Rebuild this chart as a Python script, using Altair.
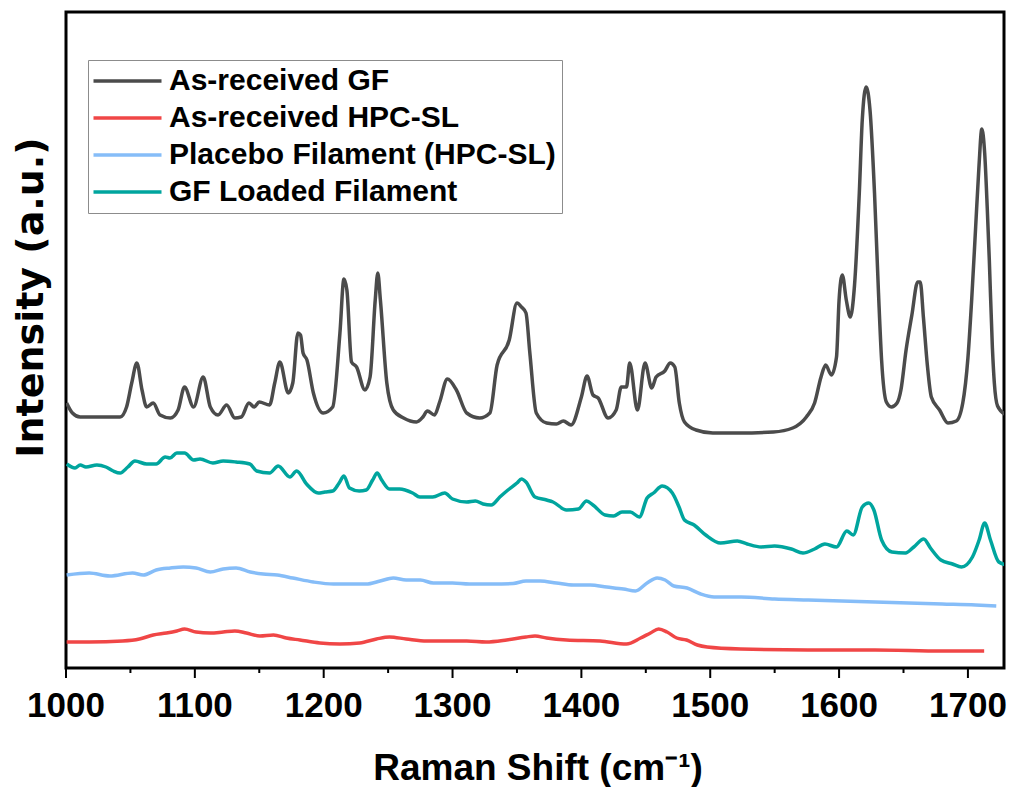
import altair as alt
import pandas as pd

# Raman spectra, intensity in arbitrary units (stacked with vertical offsets)
gf_x = [1000.5, 1005, 1011, 1020, 1030, 1042, 1047, 1051, 1055, 1059, 1062.6, 1067.7, 1073, 1081,
        1087, 1092, 1099, 1106.5, 1112, 1118, 1124.7, 1131, 1136, 1142, 1146, 1150, 1158, 1162,
        1166, 1172.5, 1176, 1180, 1182, 1184, 1187, 1192, 1199.6, 1207, 1212.6, 1215.7, 1218,
        1221.6, 1225.5, 1232, 1236, 1240, 1242, 1244, 1249, 1254, 1262, 1272, 1277, 1280.5, 1286,
        1290, 1296, 1303, 1311, 1321, 1329, 1334.6, 1344, 1350, 1353.5, 1357, 1360, 1365, 1373,
        1380.6, 1386, 1392, 1400, 1404.4, 1409, 1413, 1420.7, 1427, 1431, 1435, 1437.5, 1443.5,
        1449.4, 1454.6, 1458, 1464.7, 1469, 1472.5, 1476, 1480, 1489, 1502, 1523, 1549, 1564,
        1574.6, 1581, 1586, 1589.6, 1594, 1598, 1600, 1602.5, 1605.6, 1608.7, 1612, 1615.7, 1618,
        1621, 1624, 1627.5, 1630.6, 1633, 1636.7, 1640.6, 1645, 1648, 1652, 1656.5, 1661, 1663,
        1665.5, 1668.5, 1671.6, 1678, 1684.5, 1691, 1696, 1700, 1703, 1706, 1708.5, 1710.8, 1713,
        1715, 1716.6, 1719, 1720.5, 1723, 1728.5]
gf_y = [265, 255, 251, 251, 251, 251, 261, 285, 305, 278, 261, 265, 253, 250,
        258, 281, 261, 291, 261, 253, 263, 250, 251, 265, 261, 266, 263, 285,
        306, 275, 285, 335, 333, 315, 308, 275, 255, 261, 335, 389, 378,
        306, 301, 278, 291, 368, 395, 368, 285, 258, 250, 246, 251, 257, 253,
        266, 289, 278, 255, 250, 255, 303, 328, 365, 361, 355, 315, 255, 245,
        244, 247, 243, 271, 292, 273, 270, 250, 258, 281, 281, 305, 258,
        305, 280, 291, 297, 305, 301, 265, 246, 238, 235, 235, 236, 240,
        251, 265, 291, 303, 293, 311, 368, 393, 368, 351, 383, 475, 548,
        581, 558, 475, 375, 308, 266, 261, 265, 278, 318, 353, 386, 386,
        350, 303, 271, 258, 245, 247, 265, 310, 370, 441, 500, 539, 515,
        460, 408, 320, 285, 262, 254]

hpc_x = [1000.5, 1018, 1044, 1057, 1067.7, 1078, 1086, 1092, 1101, 1112, 1122, 1131, 1140,
         1150.5, 1161, 1171, 1181.5, 1197, 1212.6, 1228, 1241, 1251, 1264, 1280, 1296, 1311,
         1326, 1342, 1357, 1364, 1373, 1388.5, 1414.5, 1435, 1446, 1453.6, 1460, 1466.5, 1474,
         1481.6, 1490, 1497.6, 1523.7, 1575.8, 1628, 1680, 1712.6]
hpc_y = [26, 26, 27, 29, 33, 35, 37, 39, 36, 35, 36, 37, 35,
         32, 33, 30, 28, 25, 24, 25, 29, 31, 29, 27, 27, 27,
         26, 28, 31, 32, 30, 28, 27, 24, 30, 35, 39, 36, 30,
         28, 23, 21, 19, 18, 18, 17, 17]

placebo_x = [1000.5, 1018, 1034, 1051.7, 1060, 1070, 1081, 1091, 1101, 1112, 1122, 1132, 1143,
             1153, 1164, 1176, 1192, 1207.6, 1223, 1233, 1243.8, 1254, 1264, 1275, 1285, 1300,
             1313, 1331.5, 1347, 1357, 1368, 1380.6, 1393.8, 1406.8, 1419.7, 1432.7, 1442, 1451,
             1458.8, 1465, 1471.8, 1482, 1492.6, 1503, 1524, 1550, 1576, 1602, 1628, 1654, 1680,
             1706, 1722]
placebo_y = [93, 95, 92, 95, 93, 98, 100, 101, 100, 96, 99, 100, 96,
             94, 93, 90, 86, 84, 84, 84, 87, 90, 88, 88, 85, 85,
             84, 84, 84.5, 87, 87, 85, 83, 83, 81, 79, 77, 85,
             90, 88, 82, 80, 74, 71, 71, 69, 68, 67, 66, 65, 64,
             63, 62]

loaded_x = [1000.5, 1007, 1011, 1015.5, 1024, 1031, 1036.7, 1042, 1048, 1053.5, 1062.6, 1070,
            1077, 1080.7, 1086, 1092, 1099, 1104, 1114, 1122, 1132, 1142.7, 1148, 1158, 1164.7,
            1173.8, 1179, 1186.7, 1195.7, 1201, 1207, 1212, 1215.7, 1220, 1227.6, 1233, 1238,
            1241.5, 1245, 1251, 1259, 1269, 1274.6, 1284.6, 1294, 1300, 1311, 1317.7, 1323.7,
            1330, 1336.7, 1343, 1350, 1353.5, 1357, 1364, 1373, 1378, 1388.5, 1397.7, 1404, 1409,
            1418.5, 1425, 1431.5, 1438, 1445, 1451, 1456, 1462.7, 1470.6, 1475.8, 1480, 1487.5,
            1496.5, 1508, 1521, 1528.7, 1539.5, 1549.9, 1563, 1572, 1581, 1589, 1598, 1606, 1611,
            1618, 1623, 1627, 1633, 1641, 1651.5, 1658, 1665.7, 1670.9, 1679, 1688, 1695, 1703.5,
            1708.7, 1713, 1717.5, 1724, 1730]
loaded_y = [204, 200, 203, 201, 203, 201, 197, 195, 201, 207, 204, 204,
            211, 210, 215, 215, 208, 209, 205, 207, 206, 204, 197, 195, 202,
            191, 197, 184, 175, 176, 177, 185, 192, 180, 177, 178, 188,
            195, 188, 179, 179, 175, 171, 171, 175, 169, 166, 167, 164,
            163, 171, 178, 185, 189, 186, 171, 168, 166, 158, 159, 167, 163,
            153, 152, 156, 156, 151, 170, 175, 182, 175, 161, 148, 143,
            133, 125, 127, 124, 121, 122, 119, 115, 119, 124, 121, 137, 133,
            161, 165, 158, 128, 116, 115, 121, 129, 120, 108, 104, 101, 111,
            128, 145, 128, 106, 103]

names = ["As-received GF", "As-received HPC-SL", "Placebo Filament (HPC-SL)", "GF Loaded Filament"]
colors = ["#4b4b4b", "#f04646", "#86bdf8", "#00a59e"]
xs = [gf_x, hpc_x, placebo_x, loaded_x]
ys = [gf_y, hpc_y, placebo_y, loaded_y]

major_ticks = list(range(1000, 1701, 100))
minor_ticks = list(range(1050, 1701, 100))
x_title = ["Raman Shift (cm⁻¹)"]

rows = []
for name, sx, sy in zip(names, xs, ys):
    for i, (a, b) in enumerate(zip(sx, sy)):
        rows.append({"series": name, "shift": a, "intensity": b, "idx": i})
df = pd.DataFrame(rows)

FONT = "Liberation Sans"
PLOT_W, PLOT_H = 938, 656
Y_TITLE = "Intensity (a.u.)"

x_scale = alt.Scale(domain=[1000, 1728], nice=False, zero=False)
y_scale = alt.Scale(domain=[0, 656], nice=False, zero=False)

y_axis = alt.Axis(
    labels=False,
    ticks=False,
    domain=False,
    grid=False,
    titleFont="DejaVu Sans",
    titleFontSize=38,
    titleFontWeight="bold",
    titleColor="black",
    titleAngle=270,
    titleAlign="center",
    titleBaseline="alphabetic",
    titleX=-24,
    titleY=285,
)

legend = alt.Legend(
    orient="none",
    legendX=22,
    legendY=48,
    symbolType="M-4,0H4",
    symbolSize=289,
    symbolStrokeWidth=3.5,
    symbolOffset=18.5,
    labelOffset=26.5,
    labelFont=FONT,
    labelFontSize=30,
    labelFontWeight="bold",
    labelColor="black",
    labelLimit=600,
    rowPadding=7,
    padding=6,
    strokeColor="#8c8c8c",
    fillColor="white",
)

lines = alt.Chart(df).mark_line(
    strokeWidth=3.5, strokeJoin="round", interpolate="monotone", clip=True
).encode(
    x=alt.X("shift:Q", scale=x_scale, axis=None),
    y=alt.Y("intensity:Q", title=Y_TITLE, scale=y_scale, axis=y_axis),
    color=alt.Color("series:N", title=None,
                    scale=alt.Scale(domain=names, range=colors), legend=legend),
    order=alt.Order("idx:Q"),
)

# bottom axis drawn by hand: labels, title and outward ticks
tick_labels = alt.Chart(pd.DataFrame({"value": major_ticks})).mark_text(
    font=FONT, fontSize=35, fontWeight="bold", color="black",
    align="center", baseline="alphabetic",
).encode(
    x=alt.X("value:Q", scale=x_scale, axis=None),
    y=alt.value(PLOT_H + 49),
    text=alt.Text("value:Q", format="d"),
)

title_x = alt.Chart(pd.DataFrame({"label": x_title})).mark_text(
    font=FONT, fontSize=37, fontWeight="bold", color="black",
    align="center", baseline="alphabetic",
).encode(
    x=alt.value(PLOT_W / 2 + 3),
    y=alt.value(PLOT_H + 112),
    text="label:N",
)

# tick rules run from the frame edge (0) to below it, in intensity units
tick_df = pd.DataFrame({
    "pos": major_ticks + minor_ticks,
    "start": [0] * (len(major_ticks) + len(minor_ticks)),
    "end": [-10] * len(major_ticks) + [-5] * len(minor_ticks),
})

ticks = alt.Chart(tick_df).mark_rule(color="black", strokeWidth=2, clip=False).encode(
    x=alt.X("pos:Q", scale=x_scale, axis=None),
    y=alt.Y("start:Q", title=Y_TITLE, scale=y_scale, axis=y_axis),
    y2="end:Q",
)

chart = alt.layer(lines, tick_labels, title_x, ticks).properties(
    width=PLOT_W,
    height=PLOT_H,
    autosize=alt.AutoSizeParams(type="none"),
    padding={"left": 66, "top": 12, "right": 7, "bottom": 119},
    background="white",
).configure_view(stroke="black", strokeWidth=3)

chart.save("out.html", embed_options={"renderer": "svg", "actions": False})
